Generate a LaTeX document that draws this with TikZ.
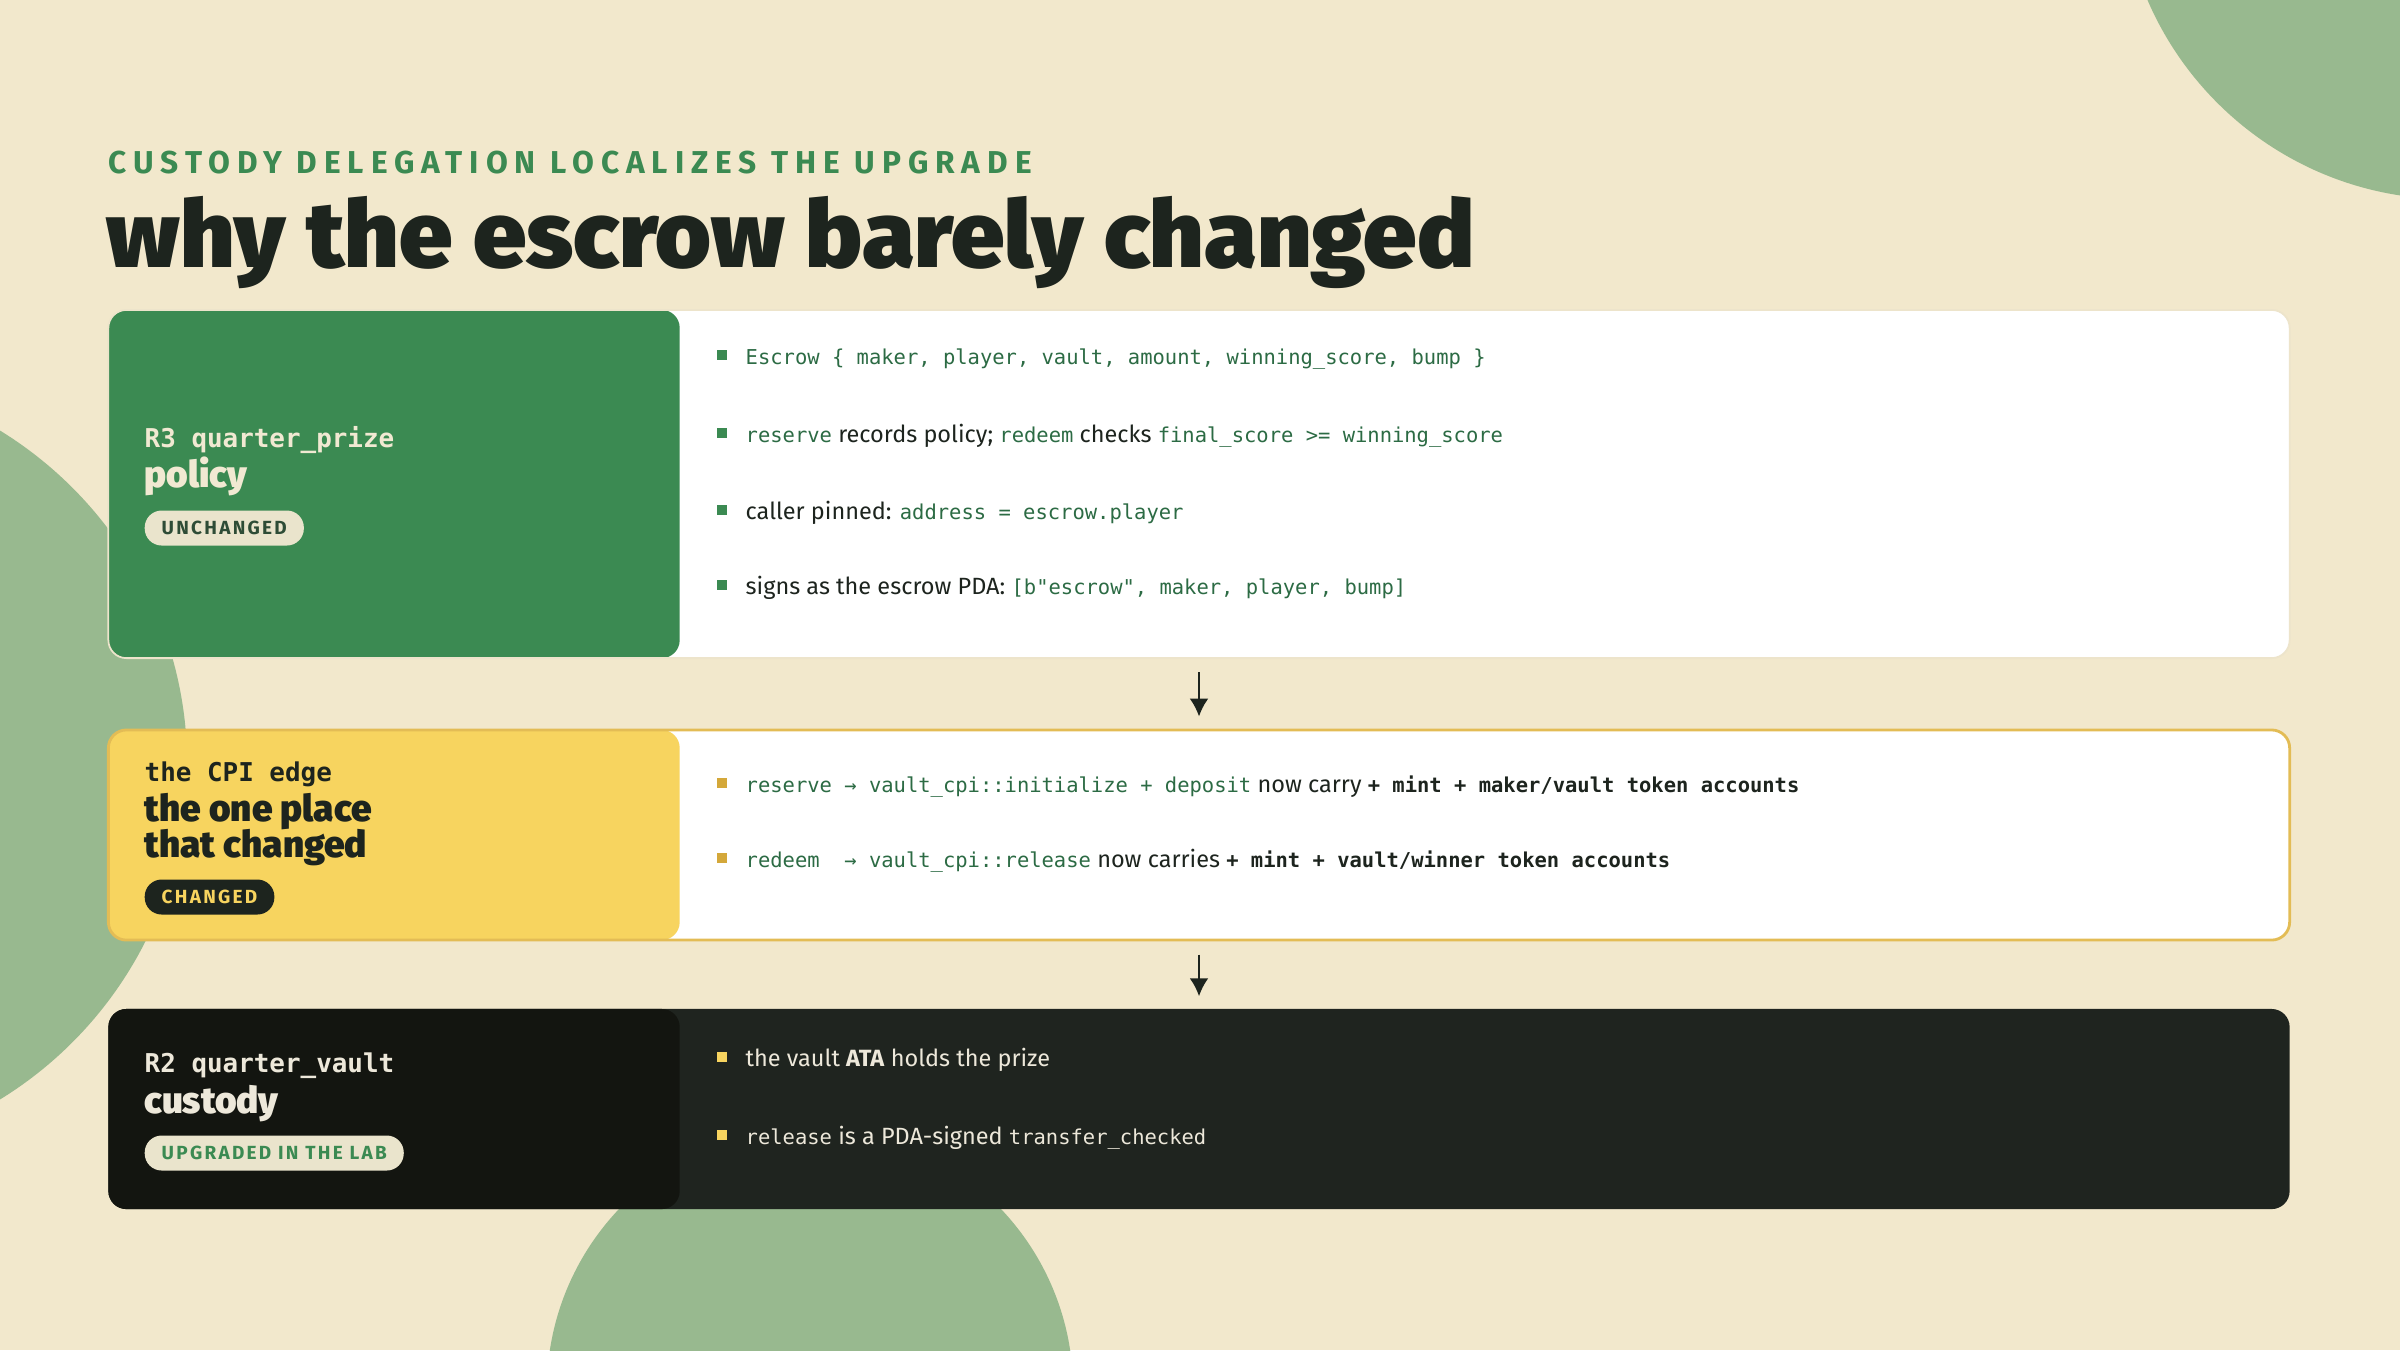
\documentclass[tikz,border=0pt]{standalone}
\usepackage{fontspec}
\usetikzlibrary{arrows.meta}

\setmainfont{Fira Sans}
\setmonofont{DejaVu Sans Mono}[Scale=0.872]
\IfFontExistsTF{Fira Sans Black}{\newfontfamily\headfont{Fira Sans Black}}{\newcommand\headfont{\bfseries}}
\IfFontExistsTF{Fira Sans Black}{\newfontfamily\heavyfont{Fira Sans Black}}{\newcommand\heavyfont{\bfseries}}
\newfontfamily\spacedfont{Fira Sans}[LetterSpace=22]
\newfontfamily\tagfont{Fira Sans}[LetterSpace=12]

\definecolor{paper}{HTML}{F2E8CC}
\definecolor{sage}{HTML}{98B98F}
\definecolor{leaf}{HTML}{3B8A52}
\definecolor{ink}{HTML}{1D241E}
\definecolor{codegreen}{HTML}{2C6B44}
\definecolor{sun}{HTML}{F7D45F}
\definecolor{gold}{HTML}{E3BC55}
\definecolor{goldbullet}{HTML}{D4A83A}
\definecolor{night}{HTML}{1F241F}
\definecolor{nightleft}{HTML}{131510}
\definecolor{moon}{HTML}{EDE8DA}
\definecolor{chip}{HTML}{EAE4CC}
\definecolor{chipink}{HTML}{2E4C36}
\definecolor{rim}{HTML}{EDE4CB}
\definecolor{pale}{HTML}{F1E9D2}

\newcommand{\code}[1]{{\ttfamily\color{codegreen}#1}}
\newcommand{\strongcode}[1]{{\ttfamily\bfseries\color{ink}#1}}

\begin{document}
\begin{tikzpicture}[x=0.01cm, y=-0.01cm,
    card/.style={rounded corners=0.18cm, minimum width=21.8cm, inner sep=0pt},
    panel/.style={path picture={\fill[#1] (path picture bounding box.north west) rectangle ([xshift=5.71cm]path picture bounding box.south west);}},
    label/.style={anchor=base west, inner sep=0pt, font=\ttfamily\bfseries\fontsize{8.45}{10}\selectfont},
    role/.style={anchor=base west, inner sep=0pt, font=\heavyfont\fontsize{10.5}{11}\selectfont},
    tag/.style={anchor=west, rounded corners=0.17cm, minimum height=0.35cm, inner xsep=0.17cm, inner ysep=0pt, font=\tagfont\bfseries\fontsize{5.4}{6}\selectfont},
    item/.style={anchor=mid west, inner sep=0pt, text=ink, font=\fontsize{6.68}{8}\selectfont},
    flow/.style={-{Latex[length=0.18cm,width=0.19cm]}, line width=0.7pt, ink, shorten <=0.13cm, shorten >=0.12cm}]

  % backdrop
  \useasboundingbox (0,0) rectangle (2400,1350);
  \clip (0,0) rectangle (2400,1350);
  \fill[paper] (0,0) rectangle (2400,1350);
  \fill[sage] (2450,-130) circle (3.29cm);
  \fill[sage] (-205,765) circle (3.92cm);
  \fill[sage] (810,1390) circle (2.63cm);

  % heading
  \node[anchor=base west, inner sep=0pt, text=leaf, font=\spacedfont\bfseries\fontsize{9}{10}\selectfont] (kicker) at (108,173) {CUSTODY DELEGATION LOCALIZES THE UPGRADE};
  \node[anchor=base west, inner sep=0pt, text=ink, font=\headfont\fontsize{26.5}{29}\selectfont] (title) at (106,267) {\scalebox{1.025}[1]{why the escrow barely changed}};

  % the three layers
  \node[card, fill=white, draw=rim, line width=0.5pt, minimum height=3.48cm, panel=leaf] (policy) at (1199,484) {};
  \node[card, fill=white, draw=gold, line width=0.8pt, minimum height=2.1cm, panel=sun] (cpi) at (1199,835) {};
  \node[card, fill=night, minimum height=2cm, panel=nightleft] (custody) at (1199,1109) {};

  \draw[flow] (policy) -- (cpi);
  \draw[flow] (cpi) -- (custody);

  % R3 policy
  \node[label, text=pale] (policy-id) at (144,447) {R3 quarter\_prize};
  \node[role, text=pale] (policy-role) at (144,487) {policy};
  \node[tag, fill=chip, text=chipink] (policy-tag) at (144,528) {UNCHANGED};

  \foreach \y in {355,433,510,585}
    \fill[leaf] (717,\y-5) rectangle +(10,10);
  \node[item] (policy-1) at (745,355) {\code{Escrow \{ maker, player, vault, amount, winning\_score, bump \}}};
  \node[item] (policy-2) at (745,433) {\code{reserve} records policy; \code{redeem} checks \code{final\_score >= winning\_score}};
  \node[item] (policy-3) at (745,510) {caller pinned: \code{address = escrow.player}};
  \node[item] (policy-4) at (745,585) {signs as the escrow PDA: \code{[b"escrow", maker, player, bump]}};

  % CPI edge
  \node[label, text=ink] (cpi-id) at (144,781) {the CPI edge};
  \node[role, text=ink] (cpi-role) at (144,821) {the one place};
  \node[role, text=ink] (cpi-role2) at (144,857) {that changed};
  \node[tag, fill=ink, text=sun] (cpi-tag) at (144,897) {CHANGED};

  \foreach \y in {783,858}
    \fill[goldbullet] (717,\y-5) rectangle +(10,10);
  \node[item] (cpi-1) at (745,783) {\code{reserve → vault\_cpi::initialize + deposit} now carry \strongcode{+ mint + maker/vault token accounts}};
  \node[item] (cpi-2) at (745,858) {\code{redeem\ \ → vault\_cpi::release} now carries \strongcode{+ mint + vault/winner token accounts}};

  % R2 custody
  \node[label, text=moon] (custody-id) at (144,1072) {R2 quarter\_vault};
  \node[role, text=moon] (custody-role) at (144,1113) {custody};
  \node[tag, fill=chip, text=leaf] (custody-tag) at (144,1153) {UPGRADED IN THE LAB};

  \foreach \y in {1057,1135}
    \fill[sun] (717,\y-5) rectangle +(10,10);
  \node[item, text=moon] (custody-1) at (745,1057) {the vault \textbf{ATA} holds the prize};
  \node[item, text=moon] (custody-2) at (745,1135) {\texttt{release} is a PDA-signed \texttt{transfer\_checked}};
\end{tikzpicture}
\end{document}
